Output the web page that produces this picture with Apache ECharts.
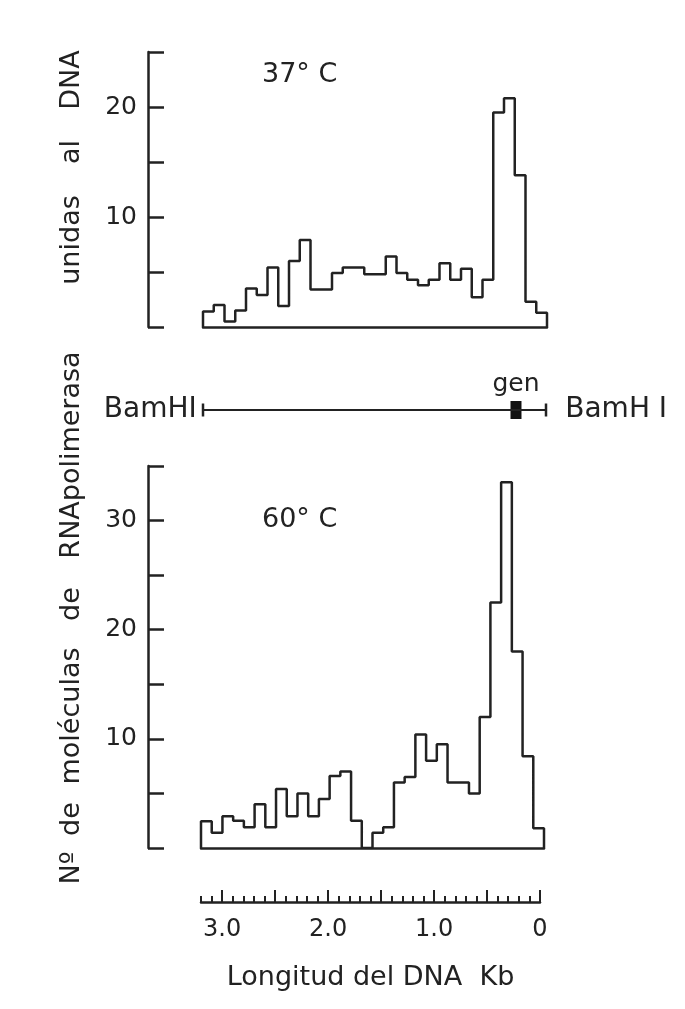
<!DOCTYPE html>
<html>
<head>
<meta charset="utf-8">
<title>RNA polimerasa unida al DNA</title>
<script src="https://cdn.jsdelivr.net/npm/echarts@6/dist/echarts.min.js"></script>
<style>
  html, body { margin: 0; padding: 0; background: #fff; }
  #chart { width: 685px; height: 1009px; }
</style>
</head>
<body>
<div id="chart"></div>
<script>
// histogram bins of 0.1 Kb, read left (3.2 Kb) to right (0 Kb)
const binStart = 3.2
const binWidth = 0.1
const counts37 = [1.4, 2.0, 0.5, 1.5, 3.5, 2.9, 5.4, 1.9, 6.0, 7.9, 3.4, 3.4, 4.9, 5.4, 5.4, 4.8,
  4.8, 6.4, 4.9, 4.3, 3.8, 4.3, 5.8, 4.3, 5.3, 2.7, 4.3, 19.5, 20.8, 13.8, 2.3, 1.3]
const counts60 = [2.45, 1.4, 2.9, 2.5, 1.9, 4.0, 1.9, 5.4, 2.9, 5.0, 2.9, 4.5, 6.6, 7.0, 2.5, 0,
  1.4, 1.9, 6.0, 6.5, 10.4, 8.0, 9.5, 6.0, 6.0, 5.0, 12.0, 22.5, 33.5, 18.0, 8.4, 1.8]
const yLabels37 = [10, 20]
const yLabels60 = [10, 20, 30]
const rulerLabels = [3, 2, 1, 0]
const rulerMajor = [3.0, 2.5, 2.0, 1.5, 1.0, 0.5, 0]
const genePos = 0.28

const ink = '#222'
const font = 'DejaVu Sans'

// outline of the histogram as a closed step line
function steps(counts) {
  const pts = [[binStart, 0]]
  counts.forEach((v, i) => {
    const a = +(binStart - i * binWidth).toFixed(2)
    const b = +(binStart - (i + 1) * binWidth).toFixed(2)
    pts.push([a, v], [b, v])
  })
  pts.push([0, 0])
  return pts
}

const rulerMinor = []
for (let i = 0; i <= 32; i++) rulerMinor.push(+(i / 10).toFixed(1))

function histX(grid) {
  return {
    gridIndex: grid, type: 'value', min: 0, max: 3.2, inverse: true,
    axisLine: { lineStyle: { color: ink, width: 2.5 } },
    axisTick: { show: false }, axisLabel: { show: false }, splitLine: { show: false }
  }
}
function histY(grid, max, offset, labels) {
  return {
    gridIndex: grid, type: 'value', min: 0, max: max, interval: 5,
    position: 'left', offset: offset,
    axisLine: { show: true, onZero: false, lineStyle: { color: ink, width: 2.5 } },
    axisTick: { show: true, inside: true, length: 16, lineStyle: { color: ink, width: 2.5 } },
    axisLabel: { customValues: labels, margin: 11, fontSize: 25, color: ink, fontFamily: font },
    splitLine: { show: false }
  }
}

// vertical axis title, word by word (centre y of each word)
const titleWords = [
  ['Nº', 868], ['de', 819], ['moléculas', 716], ['de', 604],
  ['RNApolimerasa', 455], ['unidas', 240], ['al', 152], ['DNA', 80]
]

const chart = echarts.init(document.getElementById('chart'))
chart.setOption({
  backgroundColor: '#fff',
  animation: false,
  grid: [
    { left: 203, top: 52, width: 344, height: 275 },
    { left: 201, top: 466, width: 343, height: 382 },
    { left: 203, top: 400, width: 343, height: 20 },
    { left: 201, top: 880, width: 339, height: 22 }
  ],
  xAxis: [
    histX(0),
    histX(1),
    { gridIndex: 2, type: 'value', min: 0, max: 3.2, inverse: true, show: false },
    {
      gridIndex: 3, type: 'value', min: 0, max: 3.2, inverse: true, position: 'bottom',
      axisLine: { lineStyle: { color: ink, width: 2.5 } },
      axisTick: { inside: true, customValues: rulerMinor, length: 6, lineStyle: { color: ink, width: 2 } },
      axisLabel: {
        customValues: rulerLabels, margin: 16, fontSize: 24, color: ink, fontFamily: font,
        formatter: v => (v === 0 ? '0' : v.toFixed(1))
      },
      splitLine: { show: false },
      name: 'Longitud del DNA  Kb', nameLocation: 'middle', nameGap: 62,
      nameTextStyle: { fontSize: 27, color: ink, fontFamily: font }
    },
    {
      gridIndex: 3, type: 'value', min: 0, max: 3.2, inverse: true, position: 'bottom',
      axisLine: { show: false },
      axisTick: { inside: true, customValues: rulerMajor, length: 12, lineStyle: { color: ink, width: 2 } },
      axisLabel: { show: false }, splitLine: { show: false }
    }
  ],
  yAxis: [
    histY(0, 25, 55, yLabels37),
    histY(1, 35, 53, yLabels60),
    { gridIndex: 2, type: 'value', min: -1, max: 1, show: false },
    { gridIndex: 3, type: 'value', min: 0, max: 1, show: false }
  ],
  series: [
    {
      type: 'line', xAxisIndex: 0, yAxisIndex: 0, data: steps(counts37),
      symbol: 'none', lineStyle: { color: ink, width: 2.5 }
    },
    {
      type: 'line', xAxisIndex: 1, yAxisIndex: 1, data: steps(counts60),
      symbol: 'none', lineStyle: { color: ink, width: 2.5 }
    },
    {
      type: 'line', xAxisIndex: 2, yAxisIndex: 2,
      symbol: 'rect', symbolSize: [2.5, 13], itemStyle: { color: ink },
      lineStyle: { color: ink, width: 2 },
      label: { fontSize: 28, color: ink, fontFamily: font },
      data: [
        { value: [3.2, 0], label: { show: true, position: 'left', distance: 5, formatter: 'BamHI' } },
        { value: [0, 0], label: { show: true, position: 'right', distance: 18, formatter: 'BamH I' } }
      ]
    },
    {
      type: 'scatter', xAxisIndex: 2, yAxisIndex: 2,
      symbol: 'rect', symbolSize: [11, 18], itemStyle: { color: '#111', opacity: 1 },
      label: { show: true, position: 'top', distance: 4, formatter: 'gen', fontSize: 25, color: ink, fontFamily: font },
      emphasis: { disabled: true },
      data: [[genePos, 0]]
    }
  ],
  graphic: [
    {
      type: 'text', left: 262, top: 61,
      style: { text: '37° C', font: '27px "' + font + '"', fill: ink }
    },
    {
      type: 'text', left: 262, top: 506,
      style: { text: '60° C', font: '27px "' + font + '"', fill: ink }
    }
  ].concat(titleWords.map(([w, y]) => ({
    type: 'text', x: 72, y: y, rotation: Math.PI / 2,
    style: { text: w, font: '27px "' + font + '"', fill: ink, align: 'center', verticalAlign: 'middle' }
  })))
})
</script>
</body>
</html>
